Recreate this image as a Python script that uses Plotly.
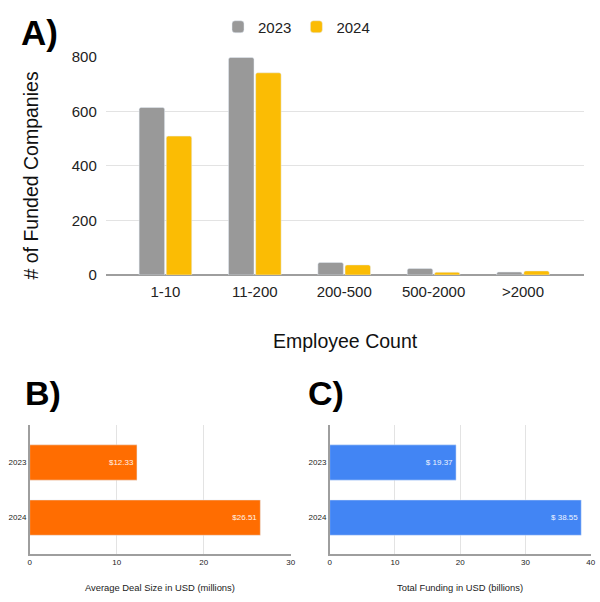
import plotly.graph_objects as go

# ---- data ----
employee_bins = ["1-10", "11-200", "200-500", "500-2000", ">2000"]
companies_2023 = [614, 797, 46, 24, 11]
companies_2024 = [509, 741, 37, 10, 15]

years = ["2023", "2024"]
avg_deal_size = [12.33, 26.51]       # USD millions
total_funding = [19.37, 38.55]       # USD billions

W, H = 600, 602
FONT = "Liberation Sans, Arial, sans-serif"
CLEAR = "rgba(0,0,0,0)"

def px_x(p):
    return p / W

def px_y(p):
    return 1 - p / H

fig = go.Figure()

# Panel A
fig.add_trace(go.Bar(x=employee_bins, y=companies_2023, name="2023",
                     marker=dict(color="#999999", cornerradius=2),
                     xaxis="x", yaxis="y"))
fig.add_trace(go.Bar(x=employee_bins, y=companies_2024, name="2024",
                     marker=dict(color="#FBBC04", cornerradius=2),
                     xaxis="x", yaxis="y"))

# Panel B
fig.add_trace(go.Bar(y=years, x=avg_deal_size, orientation="h", showlegend=False,
                     marker=dict(color="#FF6D01"), width=0.64,
                     texttemplate="$%{x:.2f}", textposition="inside",
                     insidetextanchor="end",
                     textfont=dict(color="#fff3ea", size=8, family=FONT),
                     xaxis="x2", yaxis="y2"))
# Panel C
fig.add_trace(go.Bar(y=years, x=total_funding, orientation="h", showlegend=False,
                     marker=dict(color="#4285F4"), width=0.64,
                     texttemplate="$ %{x:.2f}", textposition="inside",
                     insidetextanchor="end",
                     textfont=dict(color="#eef4ff", size=8, family=FONT),
                     xaxis="x3", yaxis="y3"))

grid = "#e3e3e3"
axis_line = "#9e9e9e"

fig.update_layout(
    width=W, height=H,
    margin=dict(l=0, r=0, t=0, b=0, autoexpand=False),
    paper_bgcolor="white", plot_bgcolor="white",
    font=dict(family=FONT, color="#222222"),
    barmode="group", bargap=0.393, bargroupgap=0.06,
    showlegend=True,
    legend=dict(orientation="h", x=px_x(218), y=px_y(27), xanchor="left", yanchor="middle",
                font=dict(size=15, color="#222222"), itemwidth=30,
                traceorder="normal"),
    xaxis=dict(domain=[px_x(105.8), px_x(583.5)], range=[-0.667, 4.677],
               showgrid=False, showline=False, ticks="outside", ticklen=3, tickcolor=CLEAR,
               tickfont=dict(size=15), automargin=False, fixedrange=True),
    yaxis=dict(domain=[px_y(275), px_y(56.7)], range=[0, 800], tickvals=[0, 200, 400, 600, 800],
               showgrid=True, gridcolor=grid, gridwidth=1, zeroline=True, zerolinecolor=axis_line,
               zerolinewidth=1.5, tickfont=dict(size=15), ticks="outside", ticklen=5,
               tickcolor=CLEAR, showline=False, automargin=False, anchor="x"),
    xaxis2=dict(domain=[px_x(29.7), px_x(290.7)], range=[0, 30], tickvals=[0, 10, 20, 30],
                showgrid=True, gridcolor=grid, zeroline=False, showline=True, linecolor=axis_line,
                linewidth=1.5, tickfont=dict(size=8), anchor="y2", ticks="", automargin=False),
    yaxis2=dict(domain=[px_y(554), px_y(425)], range=[1.66, -0.68],
                showgrid=False, showline=True, linecolor=axis_line, linewidth=1.5,
                tickfont=dict(size=8), anchor="x2", ticks="", automargin=False),
    xaxis3=dict(domain=[px_x(329.7), px_x(590.7)], range=[0, 40], tickvals=[0, 10, 20, 30, 40],
                showgrid=True, gridcolor=grid, zeroline=False, showline=True, linecolor=axis_line,
                linewidth=1.5, tickfont=dict(size=8), anchor="y3", ticks="", automargin=False),
    yaxis3=dict(domain=[px_y(554), px_y(425)], range=[1.66, -0.68],
                showgrid=False, showline=True, linecolor=axis_line, linewidth=1.5,
                tickfont=dict(size=8), anchor="x3", ticks="", automargin=False),
)

ann = [
    dict(text="<b>A)</b>", x=px_x(19), y=px_y(32), xanchor="left", yanchor="middle",
         font=dict(size=35, color="black")),
    dict(text="<b>B)</b>", x=px_x(23), y=px_y(393), xanchor="left", yanchor="middle",
         font=dict(size=34, color="black")),
    dict(text="<b>C)</b>", x=px_x(306), y=px_y(393), xanchor="left", yanchor="middle",
         font=dict(size=34, color="black")),
    dict(text="# of Funded Companies", x=px_x(30), y=px_y(175.5), textangle=-90,
         xanchor="center", yanchor="middle", font=dict(size=19.5, color="#111111")),
    dict(text="Employee Count", x=px_x(345), y=px_y(341), xanchor="center", yanchor="middle",
         font=dict(size=19.5, color="#111111")),
    dict(text="Average Deal Size in USD (millions)", x=px_x(160), y=px_y(587),
         xanchor="center", yanchor="middle", font=dict(size=9.4, color="#222222")),
    dict(text="Total Funding in USD (billions)", x=px_x(460), y=px_y(587),
         xanchor="center", yanchor="middle", font=dict(size=9.4, color="#222222")),
]
for a in ann:
    a.update(xref="paper", yref="paper", showarrow=False)
fig.update_layout(annotations=ann)

fig.write_html("out.html", config={"displayModeBar": False},
               post_script="document.body.style.margin='0';document.body.style.overflow='hidden';")
